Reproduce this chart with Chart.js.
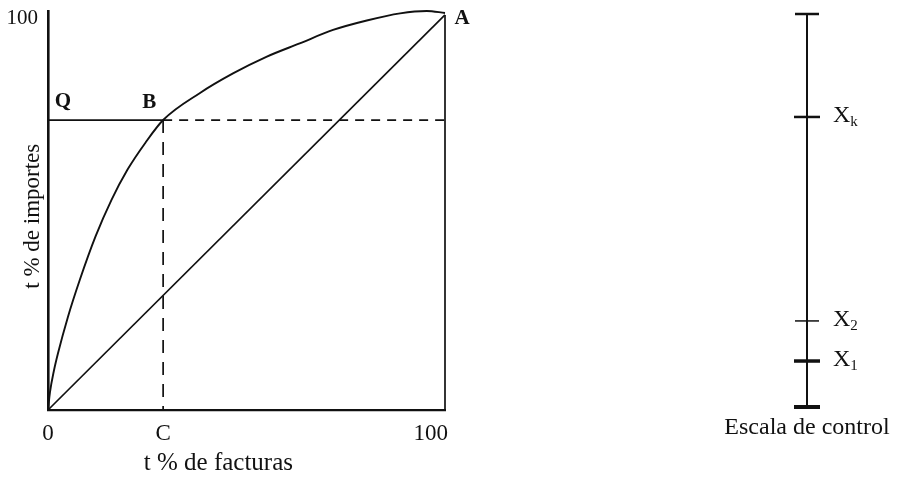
<!DOCTYPE html>
<html>
<head>
<meta charset="utf-8">
<script src="https://cdn.jsdelivr.net/npm/chart.js@4.4.1/dist/chart.umd.min.js"></script>
<style>
    html, body { margin: 0; padding: 0; background: #fff; }
    body { width: 898px; height: 478px; position: relative; overflow: hidden; }
    #curvaBox { position: absolute; left: 0; top: 0; width: 490px; height: 478px; }
    #escalaBox { position: absolute; left: 700px; top: 0; width: 198px; height: 478px; }
</style>
</head>
<body>
<div id="curvaBox"><canvas id="curva"></canvas></div>
<div id="escalaBox"><canvas id="escala"></canvas></div>
<script>
// Curva de concentración: t % de facturas (x) frente a t % de importes (y)
const curveX = [0, 0.5, 1.5, 2.5, 5, 8, 12, 16, 20, 24.5, 29, 38.2, 46.6, 55, 63.4, 71.8, 80.3, 88.7, 95.4, 100];
const curveY = [0, 4.5, 10, 14.3, 23.5, 32.9, 44, 53.2, 60.8, 67.6, 73.4, 80.2, 85.2, 89.4, 92.8, 96.2, 98.6, 100.4, 101, 100.5];

// Diagonal 0 -> A y lado derecho del cuadro
const diagX = [0, 100];
const diagY = [0, 100];
const sideX = [100, 100];
const sideY = [0, 100];

// Punto B sobre la curva (nivel Q) y su proyección C
const bX = 29;
const bY = 73.4;

const xTickValues = [0, bX, 100];
const xTickLabels = ['0', 'C', '100'];
const yTickValues = [100];
const yTickLabels = ['100'];

const pointNames = ['Q', 'B', 'A'];
const pointX = [0, bX, 100];
const pointY = [bY, bY, 100];

// Escala de control
const controlRange = [0, 100];
const controlMarks = [0, 11.7, 21.9, 73.8, 100];
const controlNames = ['X', 'X', 'X'];
const controlSubs = ['1', '2', 'k'];
const controlValues = [11.7, 21.9, 73.8];

const INK = '#111';
const SERIF = '"Liberation Serif", "Times New Roman", serif';
const NBSP = '\u00a0';

const pts = (xs, ys) => xs.map((x, i) => ({ x, y: ys[i] }));

const lineSet = (data, extra = {}) => ({
    data,
    showLine: true,
    borderColor: INK,
    borderWidth: 1.7,
    pointRadius: 0,
    clip: false,
    ...extra
});

// etiquetas Q, B, A junto a sus puntos
const letrasPlugin = {
    id: 'letras',
    afterDatasetsDraw(chart) {
        const { ctx, scales: { x, y } } = chart;
        const offsets = [[15, -18], [-14, -17], [17, 4]];
        ctx.save();
        ctx.font = 'bold 21px ' + SERIF;
        ctx.fillStyle = INK;
        ctx.textAlign = 'center';
        ctx.textBaseline = 'middle';
        pointNames.forEach((name, i) => {
            ctx.fillText(name, x.getPixelForValue(pointX[i]) + offsets[i][0], y.getPixelForValue(pointY[i]) + offsets[i][1]);
        });
        ctx.restore();
    }
};

// X con subíndice al lado de cada marca
const marcasPlugin = {
    id: 'marcas',
    afterDatasetsDraw(chart) {
        const { ctx, scales: { x, y } } = chart;
        const x0 = x.getPixelForValue(0) + 26;
        ctx.save();
        ctx.fillStyle = INK;
        ctx.textAlign = 'left';
        ctx.textBaseline = 'middle';
        controlValues.forEach((v, i) => {
            const py = y.getPixelForValue(v) - 1;
            ctx.font = '24px ' + SERIF;
            ctx.fillText(controlNames[i], x0, py);
            const w = ctx.measureText(controlNames[i]).width;
            ctx.font = '15px ' + SERIF;
            ctx.fillText(controlSubs[i], x0 + w, py + 6);
        });
        ctx.restore();
    }
};

new Chart(document.getElementById('curva'), {
    type: 'scatter',
    data: {
        datasets: [
            lineSet(pts(curveX, curveY), { borderWidth: 1.9, cubicInterpolationMode: 'monotone' }),
            lineSet(pts(diagX, diagY)),
            lineSet(pts([0, bX], [bY, bY])),
            lineSet(pts([bX, 100], [bY, bY]), { borderDash: [9, 7] }),
            lineSet(pts([bX, bX], [bY, 0]), { borderDash: [13, 9] }),
            lineSet(pts(sideX, sideY))
        ]
    },
    options: {
        animation: false,
        responsive: true,
        maintainAspectRatio: false,
        layout: { autoPadding: false, padding: { top: 11, right: 45, bottom: 0, left: 0 } },
        plugins: { legend: { display: false }, tooltip: { enabled: false } },
        scales: {
            x: {
                type: 'linear',
                min: 0,
                max: 100,
                grid: { display: false, drawTicks: false },
                border: { display: true, color: INK, width: 2.2 },
                afterBuildTicks: s => { s.ticks = xTickValues.map(v => ({ value: v })); },
                afterFit: s => { s.height = 68; },
                ticks: {
                    padding: 10,
                    color: INK,
                    maxRotation: 0,
                    autoSkip: false,
                    font: { family: SERIF, size: 23 },
                    callback: (v, i) => xTickLabels[i] === '100' ? '100' + NBSP.repeat(5) : xTickLabels[i]
                },
                title: {
                    display: true,
                    text: 't % de facturas' + NBSP.repeat(9),
                    color: INK,
                    font: { family: SERIF, size: 25 },
                    padding: { top: 0, bottom: 0 }
                }
            },
            y: {
                type: 'linear',
                min: 0,
                max: 101,
                grid: { display: false, drawTicks: false },
                border: { display: true, color: INK, width: 2.6 },
                afterBuildTicks: s => { s.ticks = yTickValues.map(v => ({ value: v })); },
                afterFit: s => { s.width = 48; },
                ticks: {
                    padding: 10,
                    labelOffset: 4,
                    color: INK,
                    // lineHeight mínima: la etiqueta superior no empuja el área del gráfico hacia abajo
                    font: { family: SERIF, size: 21, lineHeight: 0.05 },
                    callback: (v, i) => yTickLabels[i]
                },
                title: {
                    display: true,
                    text: 't % de importes' + NBSP.repeat(2),
                    color: INK,
                    font: { family: SERIF, size: 23 },
                    padding: { top: 19, bottom: 0 }
                }
            }
        }
    },
    plugins: [letrasPlugin]
});

new Chart(document.getElementById('escala'), {
    type: 'scatter',
    data: {
        datasets: [
            lineSet(pts([0, 0], controlRange), { borderWidth: 2 }),
            {
                data: pts(controlMarks.map(() => 0), controlMarks),
                showLine: false,
                pointStyle: 'line',
                pointRadius: [13, 13, 12, 13, 12],
                pointBorderWidth: [4, 3.5, 1.5, 2.5, 2.5],
                borderColor: INK,
                backgroundColor: INK,
                clip: false
            }
        ]
    },
    options: {
        animation: false,
        responsive: true,
        maintainAspectRatio: false,
        layout: { autoPadding: false, padding: { top: 14, right: 0, bottom: 0, left: 16 } },
        plugins: { legend: { display: false }, tooltip: { enabled: false } },
        scales: {
            x: {
                type: 'linear',
                min: -1,
                max: 1,
                grid: { display: false, drawTicks: false },
                border: { display: false },
                ticks: { display: false },
                afterFit: s => { s.height = 71; },
                title: {
                    display: true,
                    text: 'Escala de control',
                    color: INK,
                    font: { family: SERIF, size: 24 },
                    padding: { top: 0, bottom: 36 }
                }
            },
            y: {
                type: 'linear',
                min: controlRange[0],
                max: controlRange[1],
                display: false
            }
        }
    },
    plugins: [marcasPlugin]
});
</script>
</body>
</html>
